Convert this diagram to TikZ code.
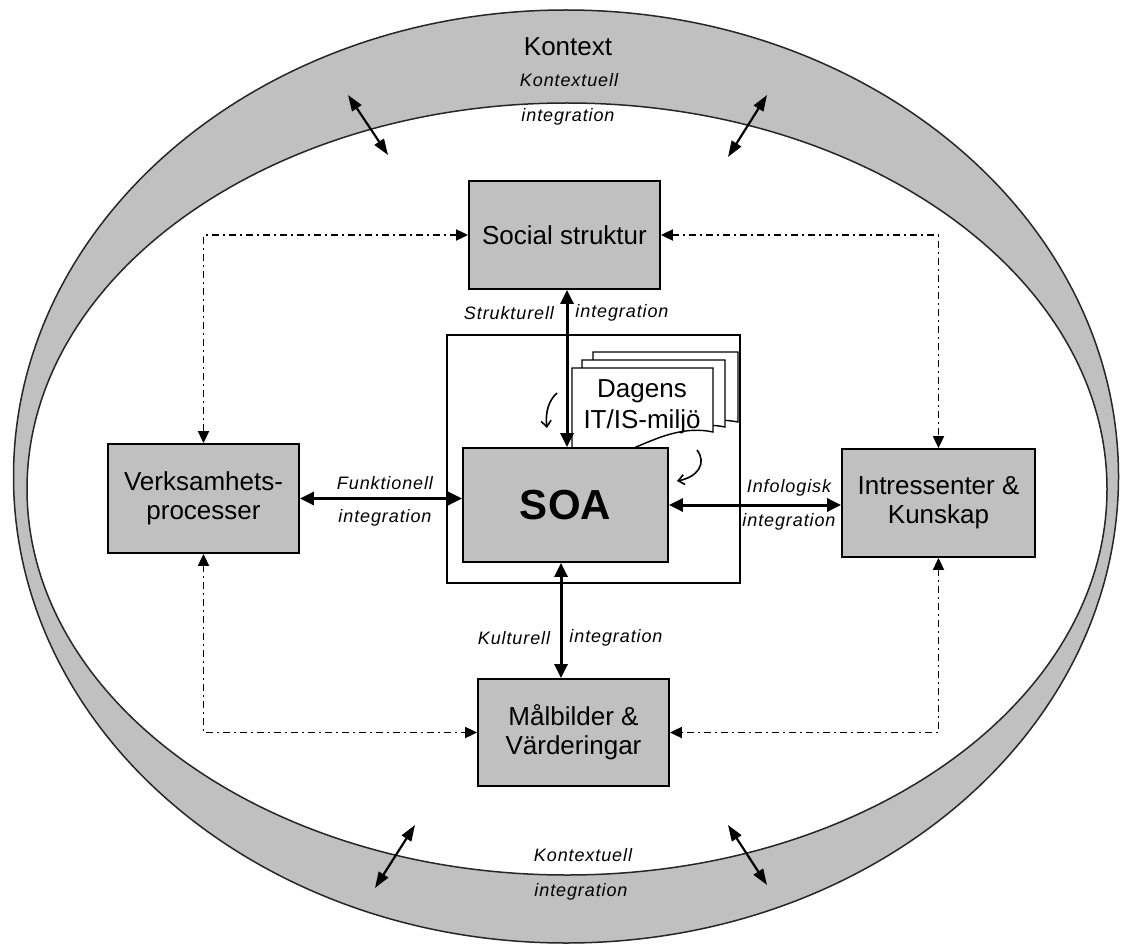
\documentclass[tikz,border=0pt]{standalone}
\usepackage{fontspec}
\setmainfont{Liberation Sans}
\usetikzlibrary{arrows.meta}
\definecolor{ringgray}{HTML}{C0C0C0}
\definecolor{boxgray}{HTML}{C0C0C0}
\begin{document}
\begin{tikzpicture}[x=1pt,y=-1pt,
  block/.style={draw=black,line width=1.8pt,fill=boxgray,inner sep=0pt,align=center,
    font=\fontsize{26}{29}\selectfont},
  page/.style={draw=black,line width=1.4pt,fill=white},
  big/.style={line width=3pt,
    {Triangle[length=14pt,width=13pt]}-{Triangle[length=14pt,width=13pt]}},
  ctx/.style={line width=2.2pt,
    {Triangle[length=16pt,width=11pt]}-{Triangle[length=16pt,width=11pt]}},
  dd/.style={line width=1.8pt,dash pattern=on 7pt off 4pt on 2pt off 4pt,
    {Triangle[length=12pt,width=11pt]}-{Triangle[length=12pt,width=11pt]}},
  curv/.style={line width=1.6pt,-{Straight Barb[length=6pt,width=10pt]}},
  lbl/.style={inner sep=0pt,font=\fontsize{18}{20}\selectfont\itshape\addfontfeature{LetterSpace=5}},
  title/.style={inner sep=0pt,font=\fontsize{26}{29}\selectfont}]

\useasboundingbox (0,0) rectangle (1122,944);
\fill[white] (0,0) rectangle (1122,944);

% context ring
\fill[ringgray,even odd rule]
  (566,476.5) ellipse [x radius=552.5,y radius=466.5]
  (567,489) ellipse [x radius=540,y radius=386];
\draw[black!85,line width=1.5pt] (566,476.5) ellipse [x radius=552.5,y radius=466.5];
\draw[black!85,line width=1.5pt] (567,489) ellipse [x radius=540,y radius=386];

\node[title] (kontext) at (568,47) {Kontext};
\node[lbl] (kt1) at (569,80) {Kontextuell};
\node[lbl] (kt2) at (568,117) {integration};
\node[lbl] (kb1) at (583,855) {Kontextuell};
\node[lbl] (kb2) at (581,892) {integration};

% context arrows crossing the inner border
\coordinate (tl1) at (348,95);  \coordinate (tl2) at (388,155);
\coordinate (tr1) at (767,95);  \coordinate (tr2) at (728,157);
\coordinate (bl1) at (415,825); \coordinate (bl2) at (375,888);
\coordinate (br1) at (728,825); \coordinate (br2) at (767,885);
\draw[ctx] (tl1) -- (tl2);
\draw[ctx] (tr1) -- (tr2);
\draw[ctx] (bl1) -- (bl2);
\draw[ctx] (br1) -- (br2);

% frame around SOA and the existing IT/IS environment
\node[draw=black,line width=1.3pt,fill=white,minimum width=293pt,minimum height=248pt,inner sep=0pt]
  (frame) at (593.5,459) {};

% stacked document pages
\draw[page] (593,352) -- (738,352) -- (738,422)
  .. controls (680,410) and (637,465) .. (593,445) -- cycle;
\draw[page] (582,360) -- (725,360) -- (725,427)
  .. controls (668,415) and (625,470) .. (582,450) -- cycle;
\draw[page] (572,368) -- (713,368) -- (713,432)
  .. controls (657,420) and (614,475) .. (572,455) -- cycle;
\node[title,align=center,font=\fontsize{26}{31}\selectfont] (dagens) at (642,407) {Dagens\\IT/IS-miljö};

% boxes
\node[block,minimum width=191pt,minimum height=108pt] (soc) at (564.5,235) {Social struktur};
\node[block,minimum width=191pt,minimum height=109pt] (verk) at (203.5,498.5) {Verksamhets-\\processer};
\node[block,minimum width=193pt,minimum height=108pt] (intr) at (938.5,503) {Intressenter \&\\Kunskap};
\node[block,minimum width=191pt,minimum height=107pt] (mal) at (573.5,732.5) {Målbilder \&\\Värderingar};
\node[block,minimum width=205pt,minimum height=114pt,font=\fontsize{42}{46}\selectfont\bfseries] (soa) at (565.5,505) {SOA};

% curved hints from the existing environment into SOA
\coordinate (ca1) at (557,393); \coordinate (ca2) at (547,428);
\draw[curv] (ca1) .. controls (549,400) and (545,412) .. (ca2);
\coordinate (cb1) at (697,450); \coordinate (cb2) at (677,481);
\draw[curv] (cb1) .. controls (707,463) and (698,477) .. (cb2);

% integration connectors
\coordinate (sx) at (567,0);
\coordinate (kx) at (561,0);
\draw[big] (sx |- soc.south) -- (sx |- soa.north);
\draw[big] (kx |- soa.south) -- (kx |- mal.north);
\draw[big] (verk.east) -- (verk.east -| soa.west);
\draw[big] (soa.east) -- (soa.east -| intr.west);

\node[lbl] (strl) at (509,313) {Strukturell};
\node[lbl] (stri) at (622,313) {integration};
\node[lbl] (funl) at (385,483) {Funktionell};
\node[lbl] (funi) at (385,518) {integration};
\node[lbl] (infl) at (789,488) {Infologisk};
\node[lbl] (infi) at (789,522) {integration};
\node[lbl] (kull) at (514,638) {Kulturell};
\node[lbl] (kuli) at (616,638) {integration};

% dash-dotted links between the outer boxes
\draw[dd] (soc.west) -| (verk.north);
\draw[dd] (soc.east) -| (intr.north);
\draw[dd] (verk.south) |- (mal.west);
\draw[dd] (intr.south) |- (mal.east);
\end{tikzpicture}
\end{document}
